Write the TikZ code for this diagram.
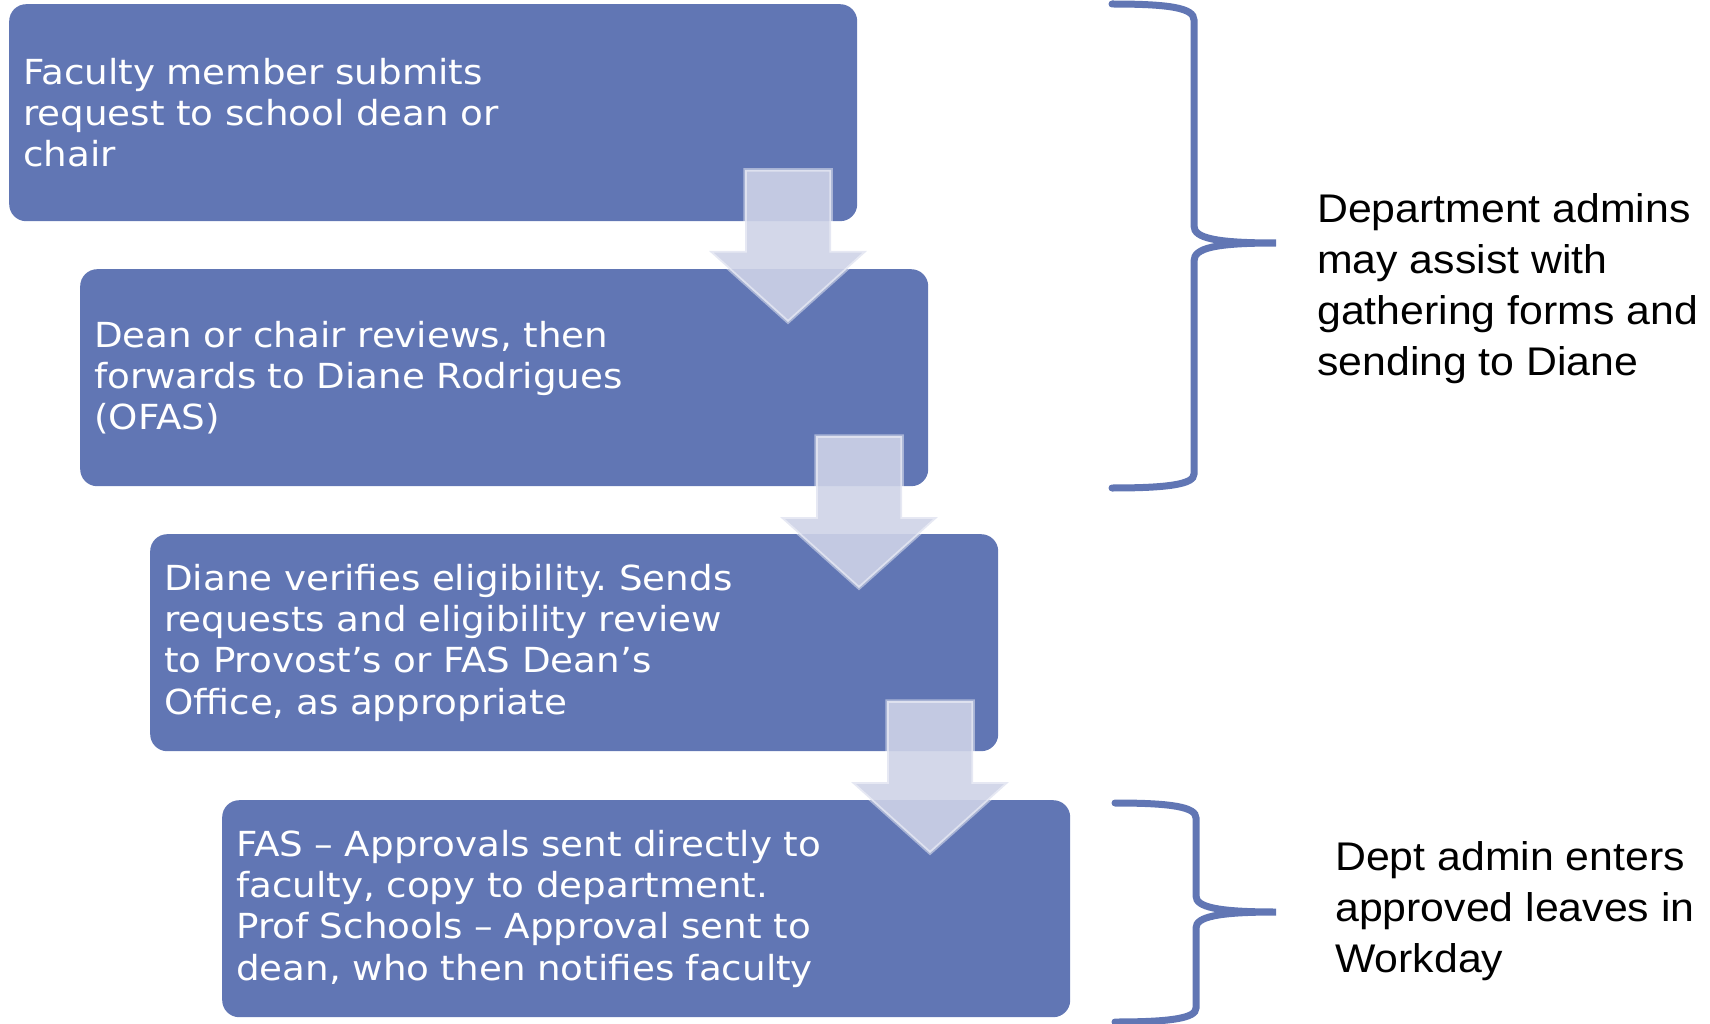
\documentclass[tikz,border=0pt]{standalone}
\usepackage{fontspec}
\setmainfont[FakeStretch=1.08]{DejaVu Sans}
\newfontfamily\arialfont[FakeStretch=1.07]{Liberation Sans}
\definecolor{boxblue}{RGB}{97,118,180}
\definecolor{arrowfill}{RGB}{206,211,231}
\frenchspacing
\begin{document}
\begin{tikzpicture}[x=1pt,y=-1pt,
  stepbox/.style={fill=boxblue, rounded corners=17pt, minimum width=848pt, minimum height=217pt,
    text width=820pt, inner xsep=14pt, inner ysep=0pt, align=left, text=white, anchor=north west,
    font=\fontsize{34.5}{41.4}\selectfont},
  blockarrow/.style={fill=arrowfill, fill opacity=0.9, draw=white, draw opacity=0.45, line width=3.5pt, line join=miter},
  bracestyle/.style={draw=boxblue, line width=7pt, line cap=round},
  sidetext/.style={align=left, inner sep=0pt, anchor=west, font=\arialfont\fontsize{40}{51}\selectfont},
  flowarrow/.pic={\path[blockarrow] (-43,0) -- (43,0) -- (43,81) -- (79,81) -- (0,152) -- (-79,81) -- (-43,81) -- cycle;}
]
\useasboundingbox (0,0) rectangle (1710,1024);

\node[stepbox] (b1) at (9,4) {Faculty member submits\\request to school dean or\\chair};
\node[stepbox] (b2) at (80,269) {Dean or chair reviews, then\\forwards to Diane Rodrigues\\(OFAS)};
\node[stepbox] (b3) at (150,534) {Diane verifies eligibility. Sends\\requests and eligibility review\\to Provost’s or FAS Dean’s\\Office, as appropriate};
\node[stepbox] (b4) at (222,800) {FAS – Approvals sent directly to\\faculty, copy to department.\\Prof Schools – Approval sent to\\dean, who then notifies faculty};

\pic at (788,170) {flowarrow};
\pic at (859,436) {flowarrow};
\pic at (930,701) {flowarrow};

% braces
\draw[bracestyle] (1112,4) .. controls (1170,4) and (1194,8) .. (1194,20) -- (1194,226)
  .. controls (1194,238) and (1215,243) .. (1276,243)
  .. controls (1215,243) and (1194,248) .. (1194,261) -- (1194,474)
  .. controls (1194,484) and (1170,488) .. (1112,488);
\draw[bracestyle] (1115,803) .. controls (1172,803) and (1196,807) .. (1196,818) -- (1196,896)
  .. controls (1196,907) and (1217,912) .. (1276,912)
  .. controls (1217,912) and (1196,917) .. (1196,928) -- (1196,1008)
  .. controls (1196,1018) and (1172,1022) .. (1115,1022);

\node[sidetext] (t1) at (1317,289) {Department admins\\may assist with\\gathering forms and\\sending to Diane};
\node[sidetext] (t2) at (1335,911) {Dept admin enters\\approved leaves in\\Workday};
\end{tikzpicture}
\end{document}
